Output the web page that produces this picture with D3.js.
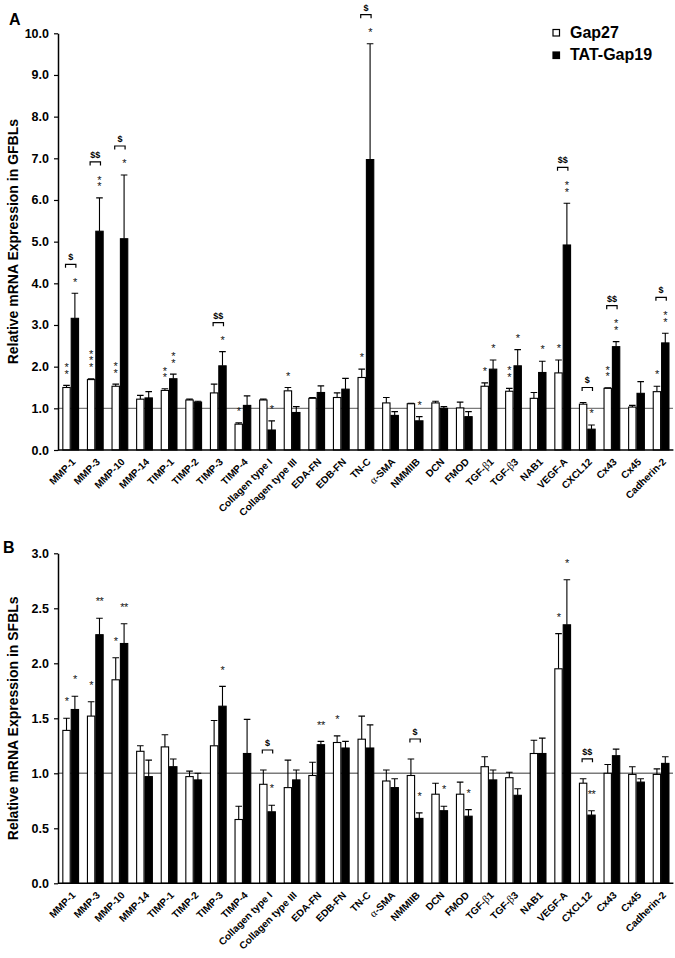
<!DOCTYPE html>
<html><head><meta charset="utf-8">
<script src="https://cdn.jsdelivr.net/npm/d3@7"></script>
<style>
body{margin:0;background:#fff}
svg{display:block}
text{font-family:"Liberation Sans",Arial,sans-serif}
.vstack{writing-mode:vertical-rl;text-orientation:upright}
</style>
</head><body>
<svg id="chart" width="675" height="958"></svg>
<script>
// ---------- DATA ----------
const categories = ["MMP-1","MMP-3","MMP-10","MMP-14","TIMP-1","TIMP-2","TIMP-3","TIMP-4","Collagen type I","Collagen type III","EDA-FN","EDB-FN","TN-C","α-SMA","NMMIIB","DCN","FMOD","TGF-β1","TGF-β3","NAB1","VEGF-A","CXCL12","Cx43","Cx45","Cadherin-2"];
const seriesNames = ["Gap27","TAT-Gap19"];

// Panel A (GFBLs)
const gap27A    = [1.50,1.69,1.53,1.22,1.43,1.20,1.37,0.62,1.20,1.42,1.24,1.26,1.74,1.13,1.11,1.13,1.01,1.53,1.41,1.24,1.85,1.10,1.48,1.03,1.40];
const gap27ErrA = [0.05,0.02,0.05,0.09,0.04,0.02,0.21,0.03,0.02,0.08,0.02,0.11,0.20,0.13,0.01,0.04,0.14,0.08,0.07,0.14,0.31,0.04,0.01,0.04,0.13];
const tatA      = [3.16,5.25,5.07,1.25,1.71,1.15,2.02,1.07,0.48,0.90,1.38,1.46,6.97,0.83,0.70,1.00,0.80,1.94,2.02,1.86,4.92,0.50,2.48,1.36,2.57];
const tatErrA   = [0.60,0.80,1.53,0.15,0.11,0.02,0.34,0.23,0.22,0.14,0.16,0.26,2.78,0.09,0.10,0.04,0.12,0.22,0.39,0.27,1.00,0.10,0.12,0.28,0.23];
const sigGapA   = ["**","***","**","","**","","","*","","*","","","*","","","","","*","**","","*","","**","","*"];
const sigTatA   = ["*","**","*","","**","","*","","*","","","","*","","*","","","*","*","*","**","*","**","","**"];
const dollarA   = ["$","$$","$","","","","$$","","","","","","$","","","","","","","","$$","$","$$","","$"];
const ticksA    = [0,1,2,3,4,5,6,7,8,9,10];

// Panel B (SFBLs)
const gap27B    = [1.39,1.52,1.85,1.20,1.24,0.97,1.25,0.58,0.90,0.87,0.98,1.28,1.31,0.93,0.98,0.81,0.81,1.06,0.96,1.18,1.95,0.91,1.00,0.99,0.99];
const gap27ErrB = [0.11,0.13,0.20,0.05,0.11,0.05,0.23,0.12,0.13,0.25,0.12,0.06,0.21,0.10,0.15,0.10,0.11,0.09,0.05,0.12,0.32,0.04,0.08,0.07,0.05];
const tatB      = [1.58,2.26,2.18,0.97,1.06,0.94,1.61,1.18,0.65,0.94,1.26,1.23,1.23,0.87,0.59,0.66,0.61,0.94,0.80,1.18,2.35,0.62,1.16,0.92,1.09];
const tatErrB   = [0.12,0.15,0.18,0.15,0.07,0.06,0.18,0.31,0.06,0.09,0.03,0.06,0.21,0.08,0.05,0.04,0.06,0.09,0.06,0.14,0.41,0.04,0.06,0.03,0.06];
const sigGapB   = ["*","*","*","","","","","","","","","*","","","","","","","","","*","","","",""];
const sigTatB   = ["*","**","**","","","","*","","*","","**","","","","*","*","*","","","","*","**","","",""];
const dollarB   = ["","","","","","","","","$","","","","","","$","","","","","","","$$","","",""];
const ticksB    = [0,0.5,1.0,1.5,2.0,2.5,3.0];

// ---------- DRAWING ----------
const svg = d3.select("#chart");

const x = d3.scaleBand().domain(categories).range([58.4, 673.4]).padding(0);
const xs = d3.scaleBand().domain(seriesNames).range([0, x.bandwidth()]).paddingInner(0).paddingOuter(0.47);
const bw = xs.bandwidth();

function labelWithGreek(sel, txt){
  const m = txt.match(/[αβ]/);
  if(!m){ sel.text(txt); return; }
  const idx = txt.indexOf(m[0]);
  if(idx>0) sel.append("tspan").text(txt.slice(0,idx));
  sel.append("tspan").attr("font-family","'Liberation Serif',serif").attr("font-weight","normal").attr("font-size","11px").text(m[0]);
  if(idx+1<txt.length) sel.append("tspan").text(txt.slice(idx+1));
}

function drawPanel(cfg){
  const g = svg.append("g");
  const y = d3.scaleLinear().domain(cfg.domain).range(cfg.range);
  const y0 = y(0);

  g.append("line").attr("x1",58).attr("x2",673).attr("y1",y(1)).attr("y2",y(1))
    .attr("stroke","#7a7a7a").attr("stroke-width",1.4);

  const rows = categories.map((c,i)=>({c,i,
    vals:[{s:seriesNames[0],v:cfg.gap[i],e:cfg.gapErr[i],sig:cfg.sigGap[i]},
          {s:seriesNames[1],v:cfg.tat[i],e:cfg.tatErr[i],sig:cfg.sigTat[i]}],
    dollar:cfg.dollar[i]}));

  const grp = g.selectAll("g.cat").data(rows).join("g").attr("class","cat")
    .attr("transform",d=>`translate(${x(d.c)},0)`);

  grp.selectAll("path.err").data(d=>d.vals).join("path").attr("class","err")
    .attr("d",d=>{
      const cx = xs(d.s)+bw/2, yt=y(d.v+d.e), yb=y(d.v);
      return `M${cx},${yb}V${yt}M${cx-3.3},${yt}H${cx+3.3}`;
    })
    .attr("stroke","#000").attr("stroke-width",1.1).attr("fill","none");

  grp.selectAll("rect.bar").data(d=>d.vals).join("rect").attr("class","bar")
    .attr("x",d=>xs(d.s)+0.5).attr("width",bw-1)
    .attr("y",d=>y(d.v)).attr("height",d=>y0-y(d.v))
    .attr("fill",(d,j)=>j===0?"#fff":"#000")
    .attr("stroke","#000").attr("stroke-width",1.1);

  rows.forEach(d=>{
    const gx = x(d.c);
    let topmost = Infinity;
    d.vals.forEach(v=>{
      const cx = gx + xs(v.s) + bw/2;
      const et = y(v.v+v.e);
      topmost = Math.min(topmost, et);
      if(!v.sig) return;
      const n = v.sig.length;
      const cy = et - cfg.starGap;
      if(cfg.stacked && n>1){
        // vertical stack of stars in one text element
        const midY = cy - (n-1)*7/2;
        g.append("text").attr("class","vstack").attr("text-anchor","middle")
          .attr("transform",`translate(${cx},${midY}) rotate(0.001)`)
          .attr("x",0).attr("y",0)
          .attr("font-size","11px").attr("fill","#111")
          .attr("letter-spacing",`${7-11*1.117}px`).text(v.sig);
        topmost = Math.min(topmost, cy - (n-1)*7);
      } else {
        g.append("text").attr("text-anchor","middle")
          .attr("transform",`translate(${cx},${cy+6.2}) rotate(0.001)`)
          .attr("font-size","11px").attr("fill","#111").attr("letter-spacing","-0.5px").text(v.sig);
        topmost = Math.min(topmost, cy);
      }
    });
    if(d.dollar){
      const cw = gx + xs(seriesNames[0]) + bw/2, cb = gx + xs(seriesNames[1]) + bw/2;
      const by = topmost - cfg.bracketGap;
      g.append("path").attr("d",`M${cw-1},${by+3.5}V${by}H${cb+1}V${by+3.5}`)
        .attr("stroke","#000").attr("stroke-width",1.2).attr("fill","none");
      g.append("text").attr("x",(cw+cb)/2).attr("y",by-4).attr("text-anchor","middle")
        .attr("font-size","9px").attr("font-weight","bold").text(d.dollar);
    }
  });

  const ax = g.append("g").attr("transform","translate(58,0)")
    .call(d3.axisLeft(y).tickValues(cfg.ticks).tickFormat(d3.format(".1f")).tickSize(4).tickSizeOuter(0).tickPadding(5));
  ax.select(".domain").attr("stroke-width",1.5);
  ax.selectAll(".tick line").attr("stroke-width",1.2);
  ax.selectAll(".tick text").attr("font-size","12.5px").attr("font-weight","bold")
    .attr("font-family","'Liberation Sans',Arial,sans-serif").attr("fill","#000");
  g.append("line").attr("x1",58).attr("x2",673.4).attr("y1",y0).attr("y2",y0)
    .attr("stroke","#000").attr("stroke-width",1.5);

  g.selectAll("text.xl").data(categories).join("text").attr("class","xl")
    .attr("transform",c=>`translate(${x(c)+x.bandwidth()/2+3},${y0+10}) rotate(-45)`)
    .attr("text-anchor","end").attr("font-size","10px").attr("font-weight","bold")
    .attr("dy","0.35em")
    .each(function(c){ labelWithGreek(d3.select(this), c); });

  const cy = (cfg.range[0]+cfg.range[1])/2;
  g.append("text").attr("transform",`translate(18,${cy}) rotate(-90)`)
    .attr("text-anchor","middle").attr("font-size","14px").attr("font-weight","bold").text(cfg.title);

  g.append("text").attr("x",cfg.letterX).attr("y",cfg.letterY).attr("font-size","16px")
    .attr("font-weight","bold").text(cfg.letter);
}

drawPanel({domain:[0,10], range:[450,33.3], ticks:ticksA,
  gap:gap27A, gapErr:gap27ErrA, tat:tatA, tatErr:tatErrA,
  sigGap:sigGapA, sigTat:sigTatA, dollar:dollarA,
  stacked:true, starGap:14, bracketGap:15,
  title:"Relative mRNA Expression in GFBLs", letter:"A", letterX:9, letterY:25});

drawPanel({domain:[0,3], range:[883.3,553.3], ticks:ticksB,
  gap:gap27B, gapErr:gap27ErrB, tat:tatB, tatErr:tatErrB,
  sigGap:sigGapB, sigTat:sigTatB, dollar:dollarB,
  stacked:false, starGap:19, bracketGap:20,
  title:"Relative mRNA Expression in SFBLs", letter:"B", letterX:3, letterY:553});

const lg = svg.append("g");
seriesNames.forEach((s,i)=>{
  lg.append("rect").attr("x",553).attr("y",29.5+i*22.5).attr("width",6.5).attr("height",6.5)
    .attr("fill",i===0?"#fff":"#000").attr("stroke","#000").attr("stroke-width",1.2);
  lg.append("text").attr("x",570).attr("y",37.5+i*22.5).attr("font-size","16px")
    .attr("font-weight","bold").text(s);
});
</script>
</body></html>
